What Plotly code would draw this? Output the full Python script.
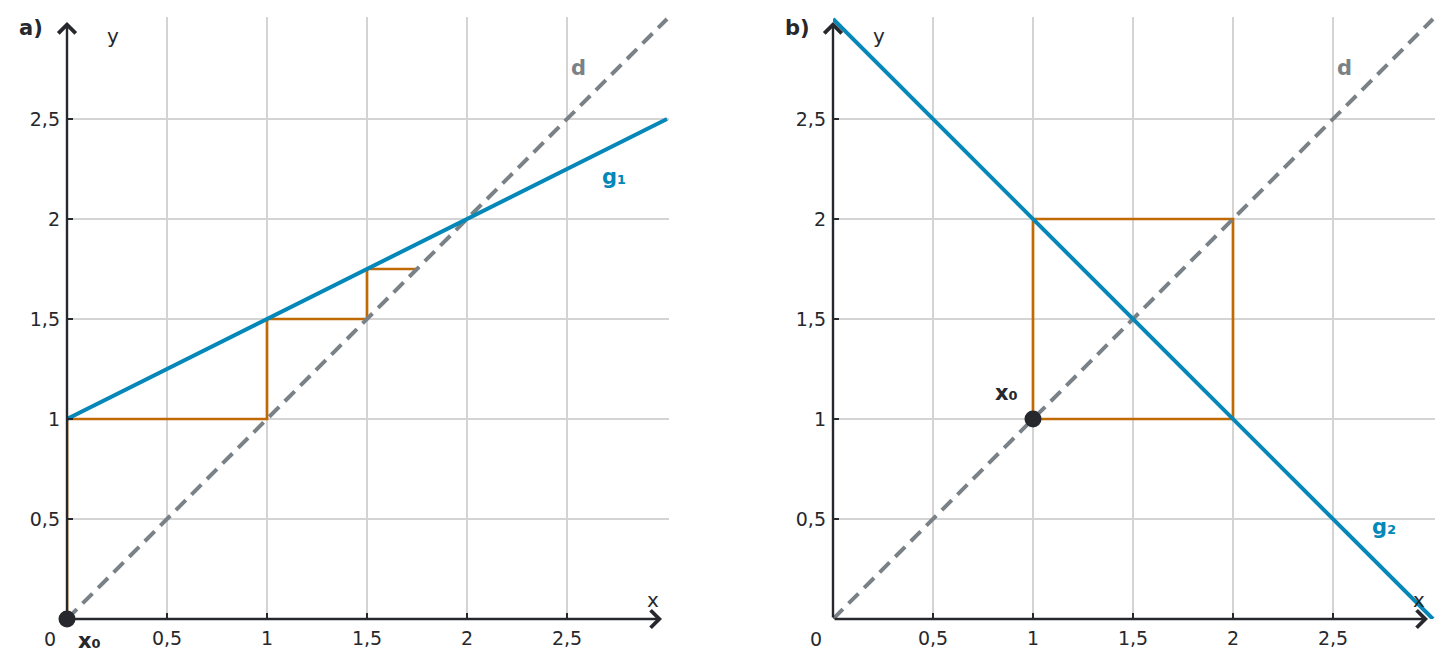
import plotly.graph_objects as go

# ---- data ----
d_x = [0, 3]
d_y = [0, 3]

g1_x = [0, 3]
g1_y = [1, 2.5]
cob1_x = [0, 0, 1, 1, 1.5, 1.5, 1.75]
cob1_y = [0, 1, 1, 1.5, 1.5, 1.75, 1.75]
x0_a = ([0], [0])

g2_x = [0, 3]
g2_y = [3, 0]
cob2_x = [1, 1, 2, 2, 1]
cob2_y = [1, 2, 2, 1, 1]
x0_b = ([1], [1])

tick_vals = [0, 0.5, 1, 1.5, 2, 2.5]
tick_text = ["", "0,5", "1", "1,5", "2", "2,5"]

BLUE = "#0588b8"
ORANGE = "#bf6a04"
GRAY = "#7a8288"
DARK = "#26282d"
GRID = "#d4d4d4"
FONT = "DejaVu Sans"

fig = go.Figure()

panels = [
    ("x", "y", g1_x, g1_y, cob1_x, cob1_y, x0_a),
    ("x2", "y2", g2_x, g2_y, cob2_x, cob2_y, x0_b),
]

for xa, ya, gx, gy, cx, cy, x0 in panels:
    fig.add_trace(go.Scatter(x=cx, y=cy, mode="lines", xaxis=xa, yaxis=ya,
                             line=dict(color=ORANGE, width=2.7), showlegend=False,
                             hoverinfo="skip"))
    fig.add_trace(go.Scatter(x=d_x, y=d_y, mode="lines", xaxis=xa, yaxis=ya,
                             line=dict(color=GRAY, width=4, dash="14px,8px"),
                             showlegend=False, hoverinfo="skip"))
    fig.add_trace(go.Scatter(x=gx, y=gy, mode="lines", xaxis=xa, yaxis=ya,
                             line=dict(color=BLUE, width=4), showlegend=False,
                             hoverinfo="skip"))
    fig.add_trace(go.Scatter(x=x0[0], y=x0[1], mode="markers", xaxis=xa, yaxis=ya,
                             marker=dict(color=DARK, size=17), cliponaxis=False,
                             showlegend=False, hoverinfo="skip"))

axis_common = dict(
    range=[0, 3.01], tickvals=tick_vals, ticktext=tick_text,
    showgrid=True, gridcolor=GRID, gridwidth=1.6,
    zeroline=False, showline=False,
    ticks="inside", ticklen=6, tickwidth=2, tickcolor=DARK,
    tickfont=dict(family=FONT, size=19, color=DARK),
    ticklabelstandoff=6,
    fixedrange=True,
)

fig.update_layout(
    width=1453, height=671,
    margin=dict(l=0, r=0, t=0, b=0),
    paper_bgcolor="white", plot_bgcolor="white",
    xaxis=dict(domain=[67 / 1453, 669 / 1453], anchor="y", **axis_common),
    yaxis=dict(domain=[52 / 671, 654 / 671], anchor="x", **axis_common),
    xaxis2=dict(domain=[833 / 1453, 1435 / 1453], anchor="y2", **axis_common),
    yaxis2=dict(domain=[52 / 671, 654 / 671], anchor="x2", **axis_common),
)

annotations = []
for xa, ya, letter, gname, gpos, x0pos, x0shift in [
    ("x", "y", "a)", "g₁", (2.735, 2.21), (0.11, 0), -22),
    ("x2", "y2", "b)", "g₂", (2.755, 0.46), (0.865, 1.13), 0),
]:
    # axis arrows
    annotations.append(dict(xref=xa, yref=ya, axref=xa, ayref=ya,
                            x=2.975, y=0, ax=0, ay=0, text="", showarrow=True,
                            arrowhead=4, arrowsize=1.4, arrowwidth=2.4,
                            arrowcolor=DARK, standoff=0))
    annotations.append(dict(xref=xa, yref=ya, axref=xa, ayref=ya,
                            x=0, y=2.985, ax=0, ay=0, text="", showarrow=True,
                            arrowhead=4, arrowsize=1.4, arrowwidth=2.4,
                            arrowcolor=DARK, standoff=0))

    def txt(x, y, t, color=DARK, bold=False, size=20, xs=0, ys=0):
        return dict(xref=xa, yref=ya, x=x, y=y, showarrow=False,
                    text=f"<b>{t}</b>" if bold else t,
                    font=dict(family=FONT, size=size, color=color),
                    xanchor="center", yanchor="middle", xshift=xs, yshift=ys)

    annotations.append(txt(0, 2.955, letter, bold=True, size=21, xs=-36))
    annotations.append(txt(0.23, 2.915, "y"))
    annotations.append(txt(2.93, 0.095, "x"))
    annotations.append(txt(0, 0, "0", size=19, xs=-17, ys=-20))
    annotations.append(txt(2.555, 2.755, "d", color=GRAY, bold=True, size=21))
    annotations.append(txt(gpos[0], gpos[1], gname, color=BLUE, bold=True, size=21))
    annotations.append(txt(x0pos[0], x0pos[1], "x₀", bold=True, size=21, ys=x0shift))

fig.update_layout(annotations=annotations)

fig.write_html("out.html", config={"displayModeBar": False},
               post_script="document.body.style.margin='0px';")
